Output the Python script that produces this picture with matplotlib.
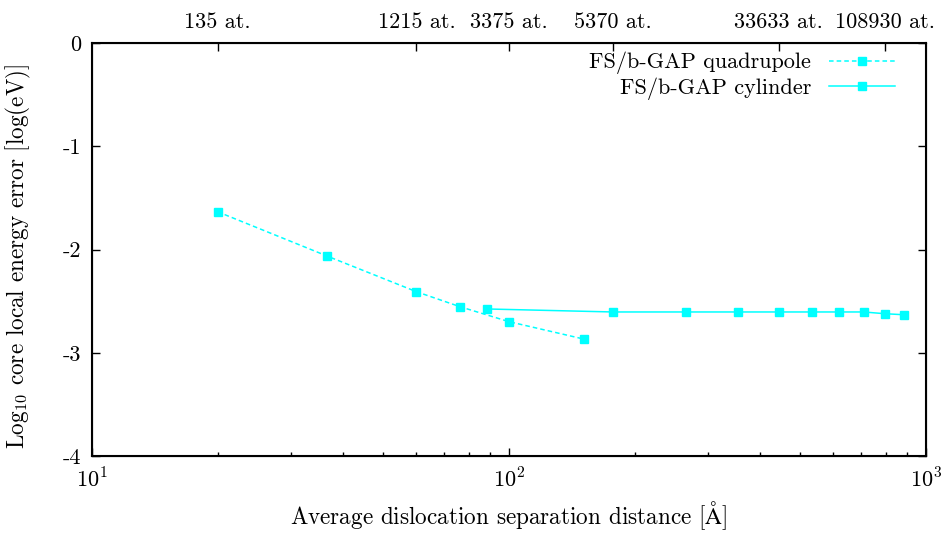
import matplotlib
matplotlib.use("Agg")
import matplotlib.pyplot as plt
from matplotlib.ticker import LogLocator, NullFormatter, FixedLocator

plt.rcParams['font.family'] = 'serif'
plt.rcParams['font.serif'] = ['cmr10', 'DejaVu Serif']
plt.rcParams['mathtext.fontset'] = 'cm'
plt.rcParams['axes.unicode_minus'] = False

# Data
quad_x = [20, 36.6, 60, 76.3, 100, 151]
quad_y = [-1.634, -2.063, -2.409, -2.554, -2.699, -2.867]
cyl_x = [88.6, 177.2, 265.8, 354.4, 443.0, 531.6, 620.2, 708.8, 797.4, 886.0]
cyl_y = [-2.576, -2.605, -2.605, -2.605, -2.605, -2.605, -2.605, -2.605, -2.622, -2.632]
top_tick_x = [20, 60, 100, 177.2, 443.0, 797.4]
top_tick_labels = ["135 at.", "1215 at.", "3375 at.", "5370 at.", "33633 at.", "108930 at."]
y_ticks = [0, -1, -2, -3, -4]
y_tick_labels = ["0", "-1", "-2", "-3", "-4"]
x_ticks = [10, 100, 1000]
x_tick_labels = [r"$10^{1}$", r"$10^{2}$", r"$10^{3}$"]

FS = 16
LFS = 16.7

fig = plt.figure(figsize=(9.44, 5.34), dpi=100)
ax = fig.add_axes([92/944, 1-456/534, (926-92)/944, (456-43)/534])

cyan = '#00FFFF'
ax.plot(quad_x, quad_y, linestyle=(0, (3, 2)), color=cyan, lw=1.1, marker='s',
        markersize=6, label='FS/b-GAP quadrupole')
ax.plot(cyl_x, cyl_y, linestyle='-', color=cyan, lw=1.1, marker='s',
        markersize=6, label='FS/b-GAP cylinder')

ax.set_xscale('log')
ax.set_xlim(10, 1000)
ax.set_ylim(-4, 0)
ax.set_xticks(x_ticks)
ax.set_xticklabels(x_tick_labels)
ax.xaxis.set_minor_locator(LogLocator(base=10, subs=range(2, 10)))
ax.xaxis.set_minor_formatter(NullFormatter())
ax.set_yticks(y_ticks)
ax.set_yticklabels(y_tick_labels)

ax.tick_params(axis='both', which='major', direction='in', length=6, width=1,
               labelsize=FS, pad=8)
ax.tick_params(axis='x', which='minor', direction='in', length=3, width=1)
ax.tick_params(axis='y', right=True)
ax.tick_params(axis='x', which='both', top=False)
for s in ax.spines.values():
    s.set_linewidth(1.5)

ax2 = ax.twiny()
ax2.set_xscale('log')
ax2.set_xlim(10, 1000)
ax2.xaxis.set_major_locator(FixedLocator(top_tick_x))
ax2.set_xticklabels(top_tick_labels)
ax2.xaxis.set_minor_locator(FixedLocator([]))
ax2.tick_params(axis='x', which='major', direction='in', length=6, width=1,
                labelsize=FS, pad=8)

ax.set_xlabel(r"Average dislocation separation distance [$\mathrm{\AA}$]", fontsize=LFS, labelpad=6)
ax.set_ylabel(r"Log$_{10}$ core local energy error [log(eV)]", fontsize=LFS)
ax.yaxis.set_label_coords((33 - 92) / 834, (456 - 256) / 413)

leg = ax.legend(loc='upper right', bbox_to_anchor=(0.974, 1.0), frameon=False,
                markerfirst=False, fontsize=FS, handlelength=3.0, handletextpad=0.8,
                borderaxespad=0.0, labelspacing=0.15)

fig.savefig('out.png', dpi=100)
